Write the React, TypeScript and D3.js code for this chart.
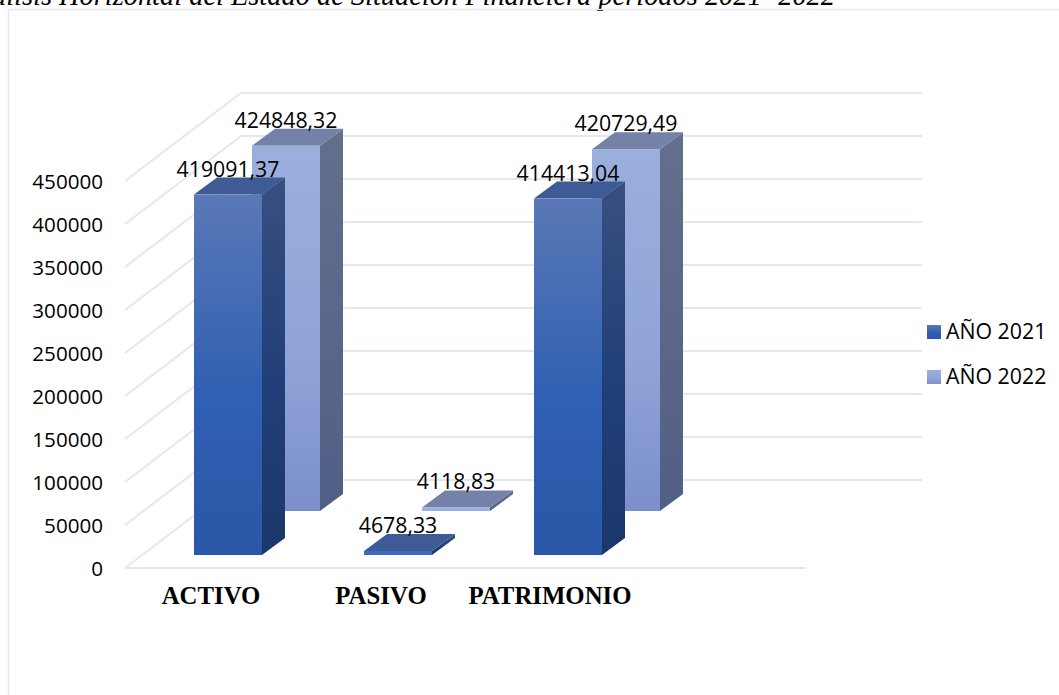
import React from "react";
import * as d3 from "d3";

const categories = ["ACTIVO", "PASIVO", "PATRIMONIO"];
const seriesNames = ["AÑO 2021", "AÑO 2022"];
const values2021 = [419091.37, 4678.33, 414413.04];
const values2022 = [424848.32, 4118.83, 420729.49];
const valueLabels2021 = ["419091,37", "4678,33", "414413,04"];
const valueLabels2022 = ["424848,32", "4118,83", "420729,49"];
const yTicks = [0, 50000, 100000, 150000, 200000, 250000, 300000, 350000, 400000, 450000];
const categoryLabelX = [211, 381, 550];
const title = "Análisis Horizontal del Estado de Situación Financiera períodos 2021- 2022";

const FONT = "'Open Sans', sans-serif";
const SERIF = "'Liberation Serif', serif";
const GRID = "#e4e7ee";

const y = d3.scaleLinear().domain([0, 450000]).range([568, 181]);
const catX = d3.scalePoint<string>().domain(categories).range([194, 534]);
const BAR_W = 68;
const DEPTH = { x: 23, y: -17 };
const WALL = { x: 116, y: -88 };
const FLOOR_LIFT = 13;

const seriesStyles = [
  { dx: 0, dy: -FLOOR_LIFT, front: "g21f", side: "g21s", top: "#3f5b95", strip: "#3a6cc2", lab: valueLabels2021 },
  { dx: 58, dy: -57, front: "g22f", side: "g22s", top: "#7482a8", strip: "#9bb0e4", lab: valueLabels2022 },
];

const pts = (p: [number, number][]) => p.map((d) => d.join(",")).join(" ");

export default function App() {
  const allSeries = [values2021, values2022];
  return (
    <svg width={1059} height={695} style={{ position: "absolute", left: 0, top: 0, display: "block", background: "#fff" }}>
      <defs>
        <linearGradient id="g21f" x1="0" y1="0" x2="0" y2="1">
          <stop offset="0" stopColor="#5a78b6" />
          <stop offset="0.55" stopColor="#3060b2" />
          <stop offset="1" stopColor="#2a57a8" />
        </linearGradient>
        <linearGradient id="g21s" x1="0" y1="0" x2="0" y2="1">
          <stop offset="0" stopColor="#394f80" />
          <stop offset="0.55" stopColor="#203f78" />
          <stop offset="1" stopColor="#1c3769" />
        </linearGradient>
        <linearGradient id="g22f" x1="0" y1="0" x2="0" y2="1">
          <stop offset="0" stopColor="#9bafdd" />
          <stop offset="0.6" stopColor="#8fa3d8" />
          <stop offset="1" stopColor="#7b90c9" />
        </linearGradient>
        <linearGradient id="g22s" x1="0" y1="0" x2="0" y2="1">
          <stop offset="0" stopColor="#646f8c" />
          <stop offset="1" stopColor="#525f85" />
        </linearGradient>
      </defs>

      <text x={835} y={5} textAnchor="end" fontFamily={SERIF} fontStyle="italic" fontSize={28.4} fill="#000">{title}</text>

      <line x1={8.5} y1={9.5} x2={1059} y2={9.5} stroke={GRID} strokeWidth={1.5} />
      <line x1={8.5} y1={9.5} x2={8.5} y2={695} stroke={GRID} strokeWidth={1.5} />

      {yTicks.map((t) => {
        const v = y(t);
        return (
          <g key={t}>
            <polyline
              points={pts([[125, v], [125 + WALL.x, v + WALL.y], [922, v + WALL.y]])}
              fill="none"
              stroke={GRID}
              strokeWidth={2}
            />
            <text x={103} y={v + 8} textAnchor="end" fontFamily={FONT} fontSize={20.6} fill="#000">{t}</text>
          </g>
        );
      })}
      <line x1={125} y1={y(0)} x2={806} y2={y(0)} stroke={GRID} strokeWidth={2} />

      {[1, 0].map((si) =>
        categories.map((c, ci) => {
          const s = seriesStyles[si];
          const base = y(0) + s.dy;
          const top = y(allSeries[si][ci]) + s.dy;
          const l = (catX(c) as number) + s.dx;
          const r = l + BAR_W;
          const thin = allSeries[si][ci] < 10000;
          return (
            <g key={c + si}>
              <polygon
                points={pts([[r, top], [r + DEPTH.x, top + DEPTH.y], [r + DEPTH.x, base + DEPTH.y], [r, base]])}
                fill={`url(#${s.side})`}
              />
              <polygon
                points={pts([[l, top], [l + DEPTH.x, top + DEPTH.y], [r + DEPTH.x, top + DEPTH.y], [r, top]])}
                fill={s.top}
              />
              {thin ? (
                <rect x={l} y={top} width={BAR_W} height={base - top} fill={s.strip} />
              ) : (
                <rect x={l} y={top} width={BAR_W} height={base - top} fill={`url(#${s.front})`} />
              )}
            </g>
          );
        })
      )}

      {[1, 0].map((si) =>
        categories.map((c, ci) => {
          const s = seriesStyles[si];
          const top = y(allSeries[si][ci]) + s.dy;
          const l = (catX(c) as number) + s.dx;
          return (
            <text key={c + si} x={l + 34} y={top - 18} textAnchor="middle" fontFamily={FONT} fontSize={21.3} fill="#000">
              {s.lab[ci]}
            </text>
          );
        })
      )}

      {categories.map((c, i) => (
        <text key={c} x={categoryLabelX[i]} y={604} textAnchor="middle" fontFamily={SERIF} fontWeight="bold" fontSize={24.8} fill="#000">{c}</text>
      ))}

      {seriesNames.map((n, i) => (
        <g key={n}>
          <rect x={927} y={325 + i * 45} width={14} height={14} fill={`url(#${i === 0 ? "g21f" : "g22f"})`} />
          <text x={946} y={339 + i * 45} fontFamily={FONT} fontSize={21.3} fill="#000">{n}</text>
        </g>
      ))}
    </svg>
  );
}
